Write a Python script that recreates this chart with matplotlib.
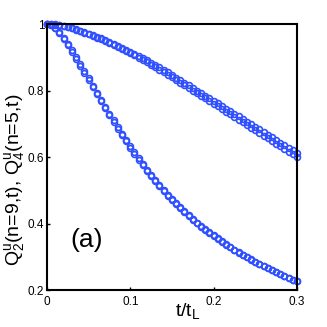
import numpy as np
import matplotlib
matplotlib.use("Agg")
import matplotlib.pyplot as plt

plt.rcParams['font.family'] = ['Liberation Sans', 'DejaVu Sans']
plt.rcParams['mathtext.default'] = 'regular'

# time grid t/t_L
t = np.arange(61) * 0.005

# Q4^u(n=5,t), two nearly overlapping curves
q4_a = [1.000, 1.000, 0.999, 0.997, 0.995, 0.992, 0.988, 0.984, 0.980, 0.976,
        0.971, 0.967, 0.962, 0.957, 0.952, 0.947, 0.941, 0.935, 0.929, 0.923,
        0.917, 0.911, 0.905, 0.898, 0.891, 0.884, 0.877, 0.870, 0.862, 0.855,
        0.847, 0.839, 0.831, 0.824, 0.816, 0.808, 0.800, 0.792, 0.784, 0.777,
        0.769, 0.761, 0.753, 0.745, 0.737, 0.730, 0.722, 0.714, 0.706, 0.698,
        0.690, 0.683, 0.675, 0.667, 0.659, 0.651, 0.643, 0.636, 0.628, 0.621,
        0.613]
q4_b = [1.000, 0.999, 0.998, 0.996, 0.994, 0.991, 0.987, 0.983, 0.978, 0.974,
        0.969, 0.964, 0.959, 0.954, 0.948, 0.943, 0.937, 0.931, 0.925, 0.919,
        0.912, 0.906, 0.899, 0.892, 0.885, 0.878, 0.870, 0.863, 0.855, 0.848,
        0.840, 0.832, 0.824, 0.816, 0.808, 0.800, 0.792, 0.784, 0.776, 0.768,
        0.760, 0.752, 0.744, 0.736, 0.728, 0.720, 0.712, 0.704, 0.696, 0.688,
        0.680, 0.672, 0.664, 0.656, 0.648, 0.640, 0.632, 0.624, 0.616, 0.608,
        0.600]

# Q2^u(n=9,t)
q2_a = [1.000, 0.997, 0.988, 0.975, 0.959, 0.941, 0.921, 0.901, 0.880, 0.858,
        0.837, 0.815, 0.794, 0.772, 0.751, 0.730, 0.710, 0.690, 0.670, 0.651,
        0.632, 0.614, 0.596, 0.579, 0.562, 0.546, 0.531, 0.516, 0.501, 0.487,
        0.474, 0.461, 0.449, 0.437, 0.425, 0.414, 0.403, 0.393, 0.383, 0.373,
        0.364, 0.355, 0.346, 0.337, 0.329, 0.321, 0.313, 0.306, 0.299, 0.292,
        0.285, 0.278, 0.271, 0.265, 0.259, 0.253, 0.247, 0.241, 0.236, 0.231,
        0.226]
q2_b = [1.000, 0.997, 0.987, 0.973, 0.956, 0.937, 0.917, 0.896, 0.875, 0.853,
        0.832, 0.810, 0.789, 0.767, 0.746, 0.725, 0.705, 0.685, 0.666, 0.647,
        0.628, 0.610, 0.592, 0.575, 0.558, 0.542, 0.527, 0.512, 0.498, 0.484,
        0.471, 0.458, 0.446, 0.434, 0.423, 0.412, 0.401, 0.391, 0.381, 0.371,
        0.362, 0.353, 0.344, 0.336, 0.328, 0.320, 0.312, 0.305, 0.298, 0.291,
        0.284, 0.277, 0.271, 0.265, 0.259, 0.253, 0.247, 0.241, 0.236, 0.231,
        0.226]

xticks = [0, 0.1, 0.2, 0.3]
xticklabels = ['0', '0.1', '0.2', '0.3']
yticks = [0.2, 0.4, 0.6, 0.8, 1.0]
yticklabels = ['0.2', '0.4', '0.6', '0.8', '1']

blue = '#3050ff'

fig = plt.figure(figsize=(3.27, 3.27), dpi=100)
ax = fig.add_axes([0.1437, 0.1131, 0.7645, 0.8135])

for y in (q4_a, q4_b, q2_a, q2_b):
    ax.plot(t, y, linestyle='none', marker='o', markersize=4.2,
            markerfacecolor='none', markeredgecolor=blue, markeredgewidth=1.2,
            clip_on=False)

ax.set_xlim(0, 0.3)
ax.set_ylim(0.2, 1.0)
ax.set_xticks(xticks)
ax.set_xticklabels(xticklabels)
ax.set_yticks(yticks)
ax.set_yticklabels(yticklabels)
ax.tick_params(direction='in', length=2.5, width=1, labelsize=8.5)
ax.tick_params(axis='x', pad=4)
ax.tick_params(axis='y', pad=2)
for sp in ax.spines.values():
    sp.set_linewidth(1.5)

fig.text(0.575, 0.05, r't/t$_L$', fontsize=14, ha='center', va='center')
fig.text(0.045, 0.45, r'$Q^u_2$(n=9,t), $Q^u_4$(n=5,t)', fontsize=14,
         rotation=90, ha='center', va='center')
ax.text(0.048, 0.35, '(a)', fontsize=19, ha='center', va='center')

fig.savefig('out.png', dpi=100)
